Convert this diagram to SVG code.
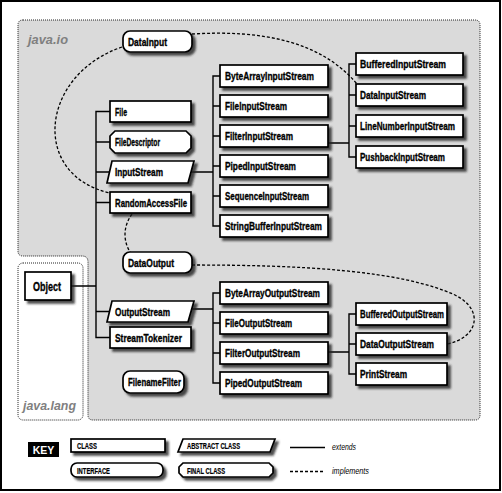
<svg xmlns="http://www.w3.org/2000/svg" width="502" height="493" viewBox="0 0 502 493">
<style>
.frame{fill:#fff;stroke:#000;stroke-width:2}
.pkg{fill:#dadada;stroke:#222;stroke-width:1;stroke-dasharray:1 1}
.pkgw{fill:#fff;stroke:#222;stroke-width:1;stroke-dasharray:1 1}
.pkgl{font-family:"Liberation Sans",Arial,sans-serif;font-weight:bold;font-style:italic;font-size:13.5px;fill:#808080}
.box{fill:#fff;stroke:#000;stroke-width:1.7;filter:url(#sh)}
.lbl{font-family:"Liberation Sans",Arial,sans-serif;font-weight:bold;font-size:11.5px;fill:#000;stroke:#000;stroke-width:0.35}
.klbl{font-family:"Liberation Sans",Arial,sans-serif;font-weight:bold;font-size:8.8px;fill:#000;stroke:#000;stroke-width:0.2}
.kit{font-family:"Liberation Sans",Arial,sans-serif;font-style:italic;font-size:8.5px;fill:#000}
.ext{fill:none;stroke:#000;stroke-width:1.4}
.imp{fill:none;stroke:#000;stroke-width:1.3;stroke-dasharray:3 2}
</style>
<defs>
<filter id="sh" x="-10%" y="-20%" width="130%" height="160%">
<feDropShadow dx="3" dy="3" stdDeviation="1.2" flood-color="#222" flood-opacity="0.8"/>
</filter>
</defs>
<rect class="frame" x="1" y="1" width="499" height="489"/>
<g id="pkg-java-io">
<path class="pkg" d="M23,20 H475 Q480,20 480,25 V415 Q480,420 475,420 H93 Q88,420 88,415 V262 Q88,256 82,256 H23 Q18,256 18,251 V25 Q18,20 23,20 Z"/>
<text class="pkgl" x="28" y="44" textLength="40" lengthAdjust="spacingAndGlyphs">java.io</text>
</g>
<g id="pkg-java-lang">
<rect class="pkgw" x="18" y="263" width="65" height="157" rx="5"/>
<text class="pkgl" x="23" y="410" textLength="53" lengthAdjust="spacingAndGlyphs">java.lang</text>
</g>
<g id="connectors">
<path class="ext" d="M110,111.5 H96 V337.5 H110 M96,142 H110 M96,172 H109.5 M96,202.5 H110 M71,286 H96 M96,311.5 H109.5"/>
<path class="ext" d="M191,172 H213 M220,76 H213 V226 H220 M213,106 H220 M213,136 H220 M213,166 H220 M213,196 H220"/>
<path class="ext" d="M328,143 H349 M356,64 H349 V157 H356 M349,95 H356 M349,126 H356"/>
<path class="ext" d="M191.7,309 H213 M220,293 H213 V383 H220 M213,323 H220 M213,353 H220"/>
<path class="ext" d="M328,352 H349 M356,314 H349 V374 H356 M349,344 H356"/>
<path class="imp" d="M192,34 C260,30 320,40 357,84"/>
<path class="imp" d="M122,47 C40,75 30,175 110,193"/>
<path class="imp" d="M132,214 C122,228 124,242 130,252"/>
<path class="imp" d="M192,265 C300,265 400,270 455,295 C485,310 478,338 447,344"/>
</g>
<g id="node-DataInput"><rect class="box" x="123" y="31" width="69" height="21" rx="7"/><text class="lbl" x="128" y="45.5" textLength="39" lengthAdjust="spacingAndGlyphs">DataInput</text></g>
<g id="node-File"><rect class="box" x="110" y="101" width="81" height="21"/><text class="lbl" x="115" y="115.5" textLength="12" lengthAdjust="spacingAndGlyphs">File</text></g>
<g id="node-FileDescriptor"><path class="box" d="M115,131 H186 L191,136 V148 L186,153 H115 L110,148 V136 Z"/><text class="lbl" x="115" y="146" textLength="45" lengthAdjust="spacingAndGlyphs">FileDescriptor</text></g>
<g id="node-InputStream"><path class="box" d="M112,161 L194,161 L188,183 L107,183 Z"/><text class="lbl" x="115" y="176" textLength="48" lengthAdjust="spacingAndGlyphs">InputStream</text></g>
<g id="node-RandomAccessFile"><rect class="box" x="110" y="192" width="81" height="21"/><text class="lbl" x="115" y="206.5" textLength="72" lengthAdjust="spacingAndGlyphs">RandomAccessFile</text></g>
<g id="node-DataOutput"><rect class="box" x="123" y="252" width="69" height="21" rx="7"/><text class="lbl" x="128" y="266.5" textLength="46" lengthAdjust="spacingAndGlyphs">DataOutput</text></g>
<g id="node-Object"><rect class="box" x="25" y="272" width="46" height="28"/><text class="lbl" x="33" y="290.5" style="font-size:13.5px" textLength="28" lengthAdjust="spacingAndGlyphs">Object</text></g>
<g id="node-OutputStream"><path class="box" d="M112,301 L194,301 L188,322 L107,322 Z"/><text class="lbl" x="115" y="315.5" textLength="55" lengthAdjust="spacingAndGlyphs">OutputStream</text></g>
<g id="node-StreamTokenizer"><rect class="box" x="110" y="327" width="81" height="21"/><text class="lbl" x="115" y="341.5" textLength="67" lengthAdjust="spacingAndGlyphs">StreamTokenizer</text></g>
<g id="node-FilenameFilter"><rect class="box" x="123" y="371" width="61" height="22" rx="7"/><text class="lbl" x="128" y="386" textLength="53" lengthAdjust="spacingAndGlyphs">FilenameFilter</text></g>
<g id="node-ByteArrayInputStream"><rect class="box" x="220" y="65" width="108" height="22"/><text class="lbl" x="225" y="80" textLength="89" lengthAdjust="spacingAndGlyphs">ByteArrayInputStream</text></g>
<g id="node-FileInputStream"><rect class="box" x="220" y="95" width="108" height="22"/><text class="lbl" x="225" y="110" textLength="62" lengthAdjust="spacingAndGlyphs">FileInputStream</text></g>
<g id="node-FilterInputStream"><rect class="box" x="220" y="125" width="108" height="22"/><text class="lbl" x="225" y="140" textLength="68" lengthAdjust="spacingAndGlyphs">FilterInputStream</text></g>
<g id="node-PipedInputStream"><rect class="box" x="220" y="155" width="108" height="22"/><text class="lbl" x="225" y="170" textLength="71" lengthAdjust="spacingAndGlyphs">PipedInputStream</text></g>
<g id="node-SequenceInputStream"><rect class="box" x="220" y="185" width="108" height="22"/><text class="lbl" x="225" y="200" textLength="84" lengthAdjust="spacingAndGlyphs">SequenceInputStream</text></g>
<g id="node-StringBufferInputStream"><rect class="box" x="220" y="215" width="108" height="22"/><text class="lbl" x="225" y="230" textLength="97" lengthAdjust="spacingAndGlyphs">StringBufferInputStream</text></g>
<g id="node-BufferedInputStream"><rect class="box" x="356" y="53" width="107" height="22"/><text class="lbl" x="360" y="68" textLength="86" lengthAdjust="spacingAndGlyphs">BufferedInputStream</text></g>
<g id="node-DataInputStream"><rect class="box" x="356" y="84" width="107" height="22"/><text class="lbl" x="360" y="99" textLength="66" lengthAdjust="spacingAndGlyphs">DataInputStream</text></g>
<g id="node-LineNumberInputStream"><rect class="box" x="356" y="115" width="107" height="22"/><text class="lbl" x="360" y="130" textLength="95" lengthAdjust="spacingAndGlyphs">LineNumberInputStream</text></g>
<g id="node-PushbackInputStream"><rect class="box" x="356" y="146" width="107" height="22"/><text class="lbl" x="360" y="161" textLength="85" lengthAdjust="spacingAndGlyphs">PushbackInputStream</text></g>
<g id="node-ByteArrayOutputStream"><rect class="box" x="220" y="282" width="108" height="22"/><text class="lbl" x="225" y="297" textLength="95" lengthAdjust="spacingAndGlyphs">ByteArrayOutputStream</text></g>
<g id="node-FileOutputStream"><rect class="box" x="220" y="312" width="108" height="22"/><text class="lbl" x="225" y="327" textLength="67" lengthAdjust="spacingAndGlyphs">FileOutputStream</text></g>
<g id="node-FilterOutputStream"><rect class="box" x="220" y="342" width="108" height="22"/><text class="lbl" x="225" y="357" textLength="75" lengthAdjust="spacingAndGlyphs">FilterOutputStream</text></g>
<g id="node-PipedOutputStream"><rect class="box" x="220" y="372" width="108" height="22"/><text class="lbl" x="225" y="387" textLength="77" lengthAdjust="spacingAndGlyphs">PipedOutputStream</text></g>
<g id="node-BufferedOutputStream"><rect class="box" x="356" y="303" width="91" height="22"/><text class="lbl" x="360" y="318" textLength="84" lengthAdjust="spacingAndGlyphs">BufferedOutputStream</text></g>
<g id="node-DataOutputStream"><rect class="box" x="356" y="333" width="91" height="22"/><text class="lbl" x="360" y="348" textLength="74" lengthAdjust="spacingAndGlyphs">DataOutputStream</text></g>
<g id="node-PrintStream"><rect class="box" x="356" y="363" width="91" height="22"/><text class="lbl" x="360" y="378" textLength="47" lengthAdjust="spacingAndGlyphs">PrintStream</text></g>
<g id="key">
<rect x="28" y="442" width="31" height="15" fill="#000"/>
<text x="43.5" y="453.5" text-anchor="middle" style="font-family:'Liberation Sans',Arial,sans-serif;font-weight:bold;font-size:10.5px;fill:#fff">KEY</text>
<rect class="box" x="71" y="439" width="94" height="13"/>
<text class="klbl" x="77" y="449.2" textLength="20" lengthAdjust="spacingAndGlyphs">CLASS</text>
<path class="box" d="M183,439 L275,439 L270,452 L178,452 Z"/>
<text class="klbl" x="187" y="449.2" textLength="53" lengthAdjust="spacingAndGlyphs">ABSTRACT CLASS</text>
<rect class="box" x="71" y="463" width="92" height="14" rx="6"/>
<text class="klbl" x="77" y="473.7" textLength="33" lengthAdjust="spacingAndGlyphs">INTERFACE</text>
<path class="box" d="M183,463 H269 L273,467 V473 L269,477 H183 L179,473 V467 Z"/>
<text class="klbl" x="187" y="473.7" textLength="38" lengthAdjust="spacingAndGlyphs">FINAL CLASS</text>
<path class="ext" d="M290,447.5 H325"/>
<text class="kit" x="332" y="450" textLength="24" lengthAdjust="spacingAndGlyphs">extends</text>
<path class="imp" d="M290,471.5 H325"/>
<text class="kit" x="332" y="474" textLength="37" lengthAdjust="spacingAndGlyphs">implements</text>
</g>
</svg>
